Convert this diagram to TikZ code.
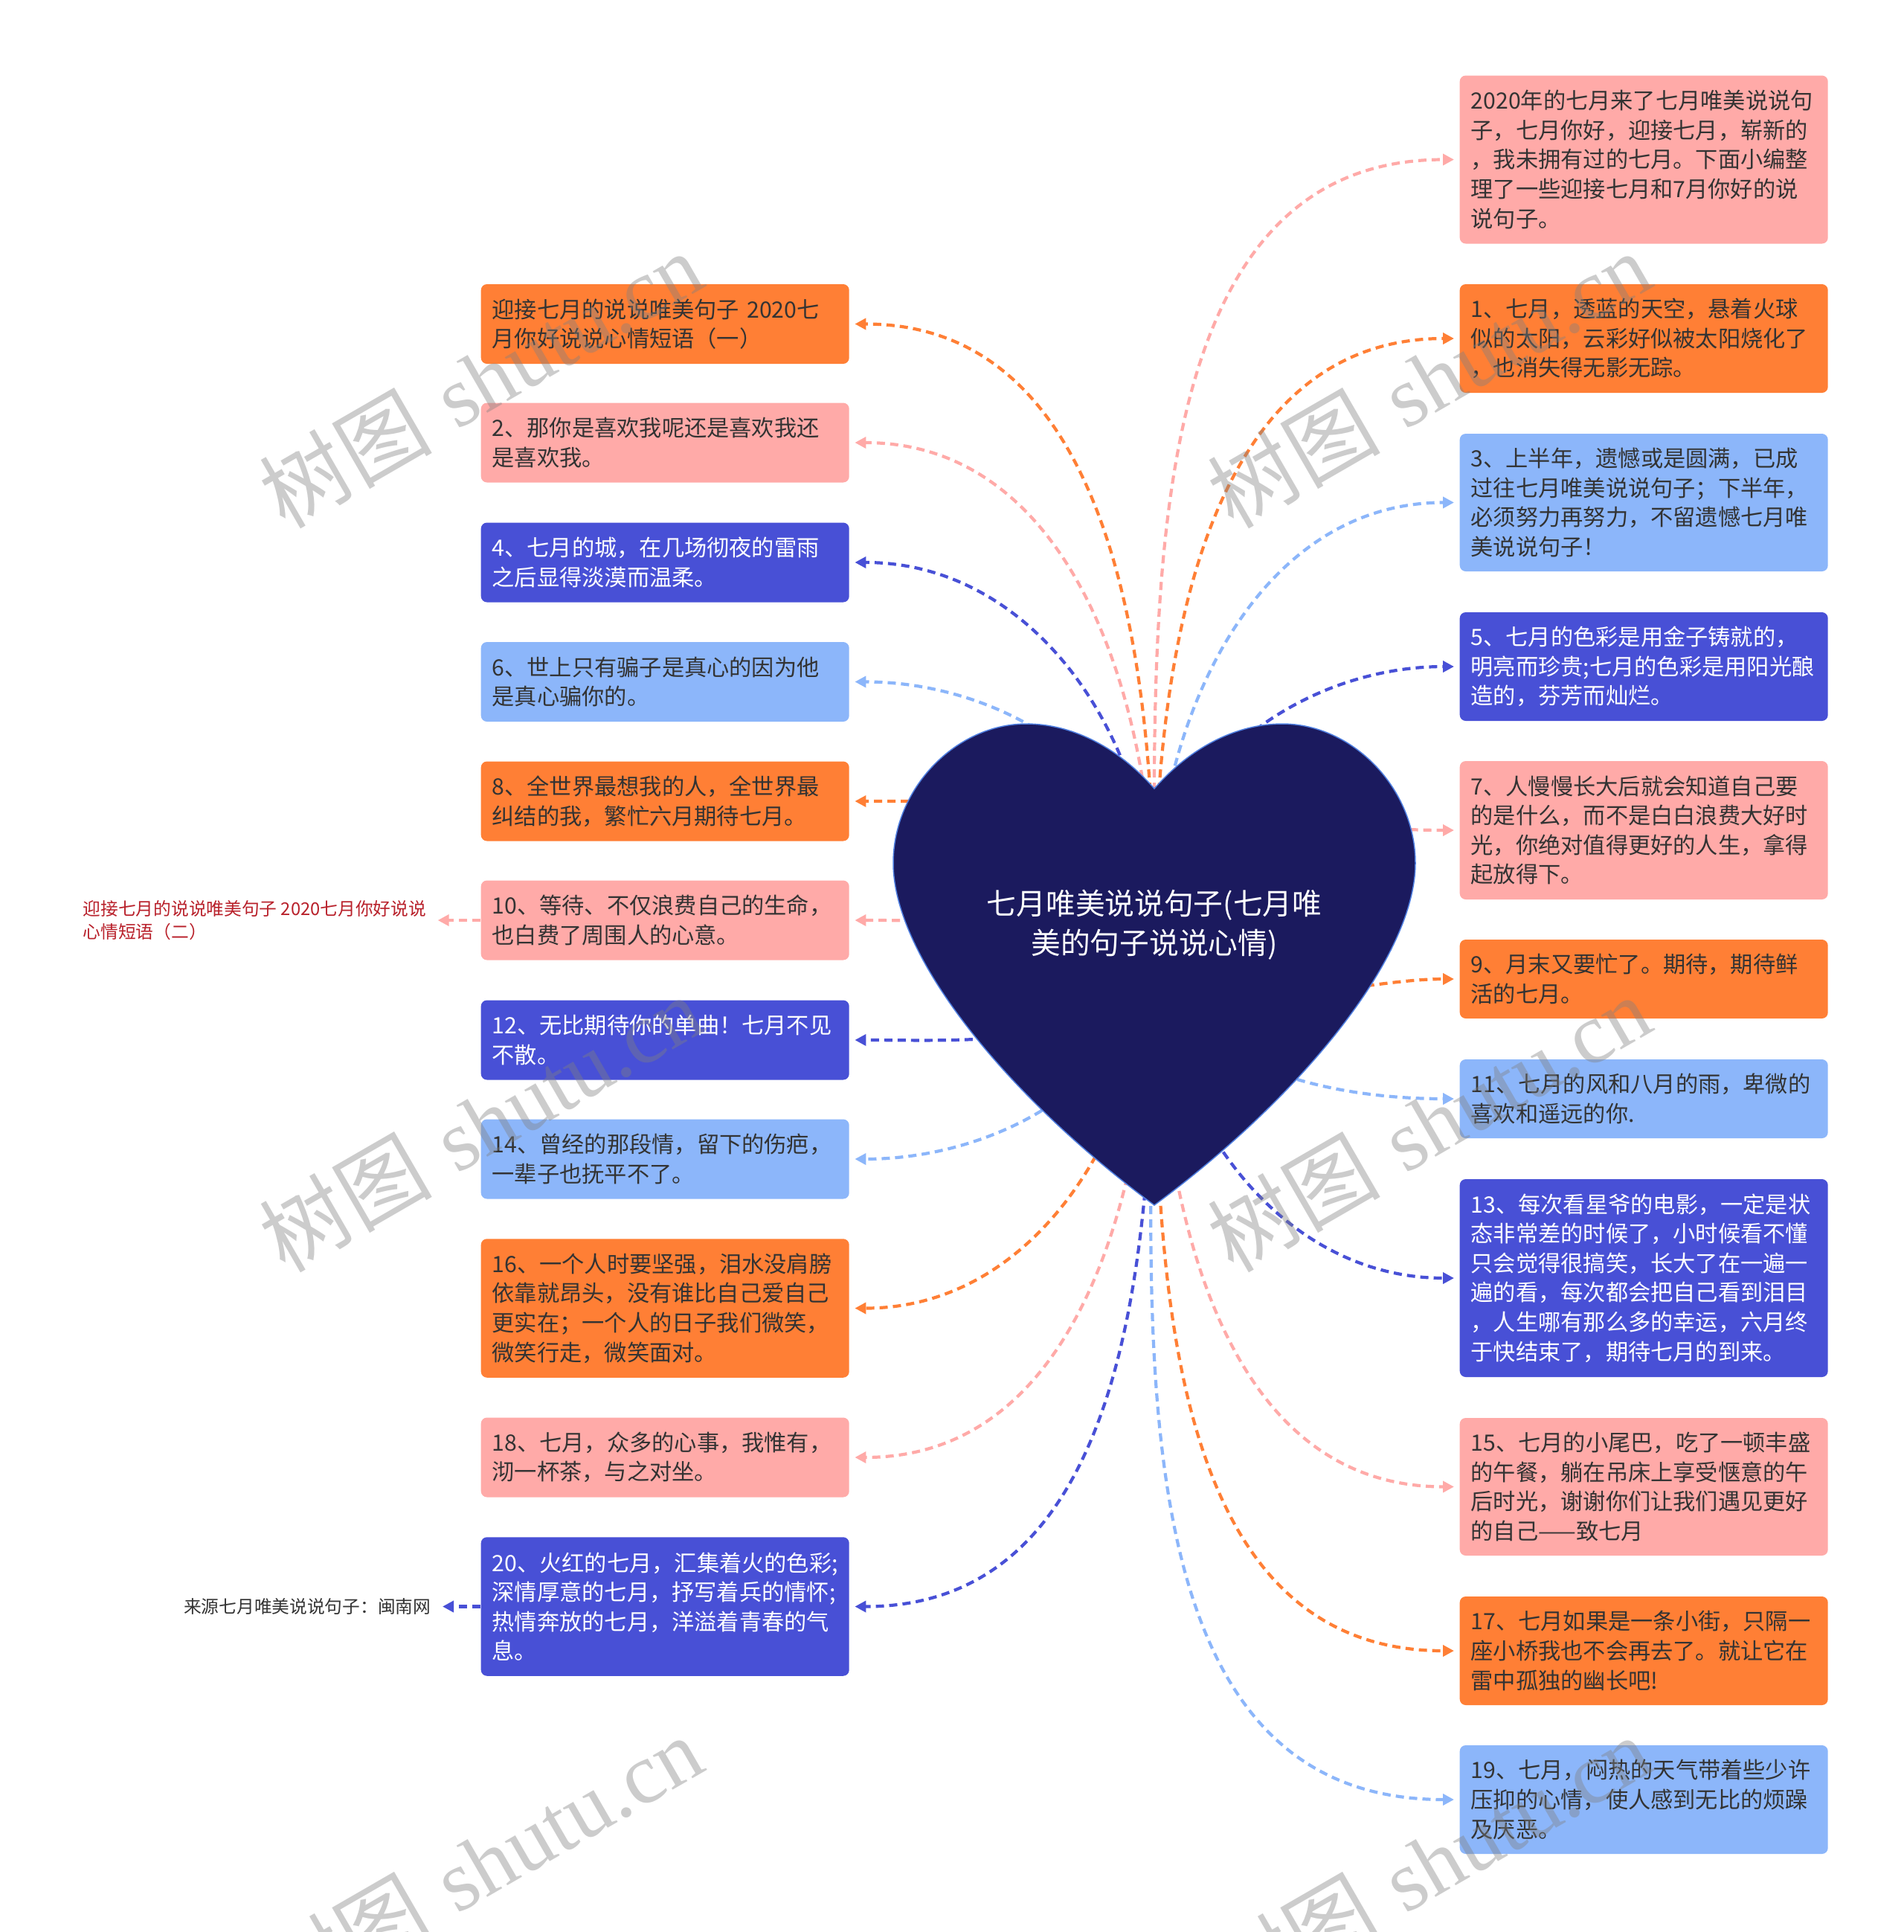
\documentclass[tikz,border=0pt]{standalone}
\usepackage{fontspec}
\usepackage{xcolor}
\usepackage{tikz}
\usetikzlibrary{arrows.meta}
\newfontfamily\cjk{Noto Sans CJK SC}
\newfontfamily\wmfont{Liberation Serif}
\definecolor{orangec}{HTML}{FF7F35}
\definecolor{pinkc}{HTML}{FFAAA8}
\definecolor{bluec}{HTML}{4850D6}
\definecolor{lightc}{HTML}{8CB6FA}
\definecolor{heartc}{HTML}{1B1A5E}
\definecolor{rimc}{HTML}{4F7FE0}
\definecolor{textc}{HTML}{333333}
\definecolor{notec}{HTML}{B8202A}
\newcommand{\wmtext}{{\cjk 树图} {\wmfont shutu.cn}}

\begin{document}
\begin{tikzpicture}[
    box/.style={rectangle, rounded corners=0.08cm, anchor=west, text width=4.65cm, inner xsep=0.15cm, inner ysep=0.05cm, align=left, text=textc, font=\cjk\fontsize{8.6pt}{11.26pt}\selectfont},
    conn/.style={line width=0.042cm, dash pattern=on 0.11cm off 0.07cm, -{Triangle[length=0.15cm,width=0.15cm]}, shorten >=0.07cm},
    note/.style={align=left, inner sep=0.08cm, font=\cjk\fontsize{6.75pt}{8.9pt}\selectfont},
    title/.style={align=center, text=white, font=\cjk\fontsize{11.3pt}{15pt}\selectfont},
    wm/.style={text=gray, opacity=0.4, rotate=30, font=\fontsize{33pt}{35pt}\selectfont}
]
    \useasboundingbox (0,0) rectangle (25.6,-25.97);
    \coordinate (hc) at (15.52,-12.43);

    \node[box, fill=orangec, minimum height=1.07cm] (l1) at (6.46,-4.355) {迎接七月的说说唯美句子 2020七\\月你好说说心情短语（一）};
    \node[box, fill=pinkc, minimum height=1.07cm] (l2) at (6.46,-5.95) {2、那你是喜欢我呢还是喜欢我还\\是喜欢我。};
    \node[box, fill=bluec, text=white, minimum height=1.07cm] (l3) at (6.46,-7.56) {4、七月的城，在几场彻夜的雷雨\\之后显得淡漠而温柔。};
    \node[box, fill=lightc, minimum height=1.07cm] (l4) at (6.46,-9.165) {6、世上只有骗子是真心的因为他\\是真心骗你的。};
    \node[box, fill=orangec, minimum height=1.07cm] (l5) at (6.46,-10.77) {8、全世界最想我的人，全世界最\\纠结的我，繁忙六月期待七月。};
    \node[box, fill=pinkc, minimum height=1.07cm] (l6) at (6.46,-12.37) {10、等待、不仅浪费自己的生命，\\也白费了周围人的心意。};
    \node[box, fill=bluec, text=white, minimum height=1.07cm] (l7) at (6.46,-13.98) {12、无比期待你的单曲！七月不见\\不散。};
    \node[box, fill=lightc, minimum height=1.07cm] (l8) at (6.46,-15.58) {14、曾经的那段情，留下的伤疤，\\一辈子也抚平不了。};
    \node[box, fill=orangec, minimum height=1.865cm] (l9) at (6.46,-17.585) {16、一个人时要坚强，泪水没肩膀\\依靠就昂头，没有谁比自己爱自己\\更实在；一个人的日子我们微笑，\\微笑行走，微笑面对。};
    \node[box, fill=pinkc, minimum height=1.07cm] (l10) at (6.46,-19.59) {18、七月，众多的心事，我惟有，\\沏一杯茶，与之对坐。};
    \node[box, fill=bluec, text=white, minimum height=1.865cm] (l11) at (6.46,-21.595) {20、火红的七月，汇集着火的色彩;\\深情厚意的七月，抒写着兵的情怀;\\热情奔放的七月，洋溢着青春的气\\息。};

    \node[box, fill=pinkc, minimum height=2.26cm] (r0) at (19.62,-2.145) {2020年的七月来了七月唯美说说句\\子，七月你好，迎接七月，崭新的\\，我未拥有过的七月。下面小编整\\理了一些迎接七月和7月你好的说\\说句子。};
    \node[box, fill=orangec, minimum height=1.46cm] (r1) at (19.62,-4.55) {1、七月，透蓝的天空，悬着火球\\似的太阳，云彩好似被太阳烧化了\\，也消失得无影无踪。};
    \node[box, fill=lightc, minimum height=1.85cm] (r2) at (19.62,-6.755) {3、上半年，遗憾或是圆满，已成\\过往七月唯美说说句子；下半年，\\必须努力再努力，不留遗憾七月唯\\美说说句子！};
    \node[box, fill=bluec, text=white, minimum height=1.46cm] (r3) at (19.62,-8.96) {5、七月的色彩是用金子铸就的，\\明亮而珍贵;七月的色彩是用阳光酿\\造的，芬芳而灿烂。};
    \node[box, fill=pinkc, minimum height=1.86cm] (r4) at (19.62,-11.16) {7、人慢慢长大后就会知道自己要\\的是什么，而不是白白浪费大好时\\光，你绝对值得更好的人生，拿得\\起放得下。};
    \node[box, fill=orangec, minimum height=1.06cm] (r5) at (19.62,-13.16) {9、月末又要忙了。期待，期待鲜\\活的七月。};
    \node[box, fill=lightc, minimum height=1.06cm] (r6) at (19.62,-14.77) {11、七月的风和八月的雨，卑微的\\喜欢和遥远的你.};
    \node[box, fill=bluec, text=white, minimum height=2.66cm] (r7) at (19.62,-17.18) {13、每次看星爷的电影，一定是状\\态非常差的时候了，小时候看不懂\\只会觉得很搞笑，长大了在一遍一\\遍的看，每次都会把自己看到泪目\\，人生哪有那么多的幸运，六月终\\于快结束了，期待七月的到来。};
    \node[box, fill=pinkc, minimum height=1.85cm] (r8) at (19.62,-19.985) {15、七月的小尾巴，吃了一顿丰盛\\的午餐，躺在吊床上享受惬意的午\\后时光，谢谢你们让我们遇见更好\\的自己——致七月};
    \node[box, fill=orangec, minimum height=1.46cm] (r9) at (19.62,-22.19) {17、七月如果是一条小街，只隔一\\座小桥我也不会再去了。就让它在\\雷中孤独的幽长吧!};
    \node[box, fill=lightc, minimum height=1.46cm] (r10) at (19.62,-24.19) {19、七月，闷热的天气带着些少许\\压抑的心情，使人感到无比的烦躁\\及厌恶。};

    \node[note, text=notec, anchor=west] (n1) at (1.03,-12.37) {迎接七月的说说唯美句子 2020七月你好说说\\心情短语（二）};
    \node[note, text=textc, anchor=east] (n2) at (5.88,-21.595) {来源七月唯美说说句子：闽南网};

    \draw[conn, orangec] (hc) to[out=90, in=0] (l1.east);
    \draw[conn, pinkc] (hc) to[out=90, in=0] (l2.east);
    \draw[conn, bluec] (hc) to[out=90, in=0] (l3.east);
    \draw[conn, lightc] (hc) to[out=90, in=0] (l4.east);
    \draw[conn, orangec] (hc) to[out=90, in=0] (l5.east);
    \draw[conn, pinkc] (hc) to[out=180, in=0] (l6.east);
    \draw[conn, bluec] (hc) to[out=-90, in=0] (l7.east);
    \draw[conn, lightc] (hc) to[out=-90, in=0] (l8.east);
    \draw[conn, orangec] (hc) to[out=-90, in=0] (l9.east);
    \draw[conn, pinkc] (hc) to[out=-90, in=0] (l10.east);
    \draw[conn, bluec] (hc) to[out=-90, in=0] (l11.east);
    \draw[conn, pinkc] (hc) to[out=90, in=180] (r0.west);
    \draw[conn, orangec] (hc) to[out=90, in=180] (r1.west);
    \draw[conn, lightc] (hc) to[out=90, in=180] (r2.west);
    \draw[conn, bluec] (hc) to[out=90, in=180] (r3.west);
    \draw[conn, pinkc] (hc) to[out=90, in=180] (r4.west);
    \draw[conn, orangec] (hc) to[out=-90, in=180] (r5.west);
    \draw[conn, lightc] (hc) to[out=-90, in=180] (r6.west);
    \draw[conn, bluec] (hc) to[out=-90, in=180] (r7.west);
    \draw[conn, pinkc] (hc) to[out=-90, in=180] (r8.west);
    \draw[conn, orangec] (hc) to[out=-90, in=180] (r9.west);
    \draw[conn, lightc] (hc) to[out=-90, in=180] (r10.west);
    \draw[conn, pinkc] (l6.west) -- (n1.east);
    \draw[conn, bluec] (l11.west) -- (n2.east);

    \draw[fill=heartc, draw=rimc, line width=0.015cm] (15.52,-10.60)
        .. controls (15.02,-10.03) and (14.40,-9.73) .. (13.80,-9.73)
        .. controls (12.85,-9.73) and (12.01,-10.60) .. (12.01,-11.60)
        .. controls (12.01,-12.90) and (13.62,-14.80) .. (15.52,-16.20)
        .. controls (17.42,-14.80) and (19.03,-12.90) .. (19.03,-11.60)
        .. controls (19.03,-10.60) and (18.19,-9.73) .. (17.24,-9.73)
        .. controls (16.64,-9.73) and (16.02,-10.03) .. (15.52,-10.60) -- cycle;
    \node[title] (root) at (hc) {七月唯美说说句子(七月唯\\美的句子说说心情)};

    \node[wm] (wm1) at (6.46,-5.10) {\wmtext};
    \node[wm] (wm2) at (19.21,-5.10) {\wmtext};
    \node[wm] (wm3) at (6.46,-15.10) {\wmtext};
    \node[wm] (wm4) at (19.21,-15.10) {\wmtext};
    \node[wm] (wm5) at (6.46,-25.05) {\wmtext};
    \node[wm] (wm6) at (19.21,-25.05) {\wmtext};
\end{tikzpicture}
\end{document}
